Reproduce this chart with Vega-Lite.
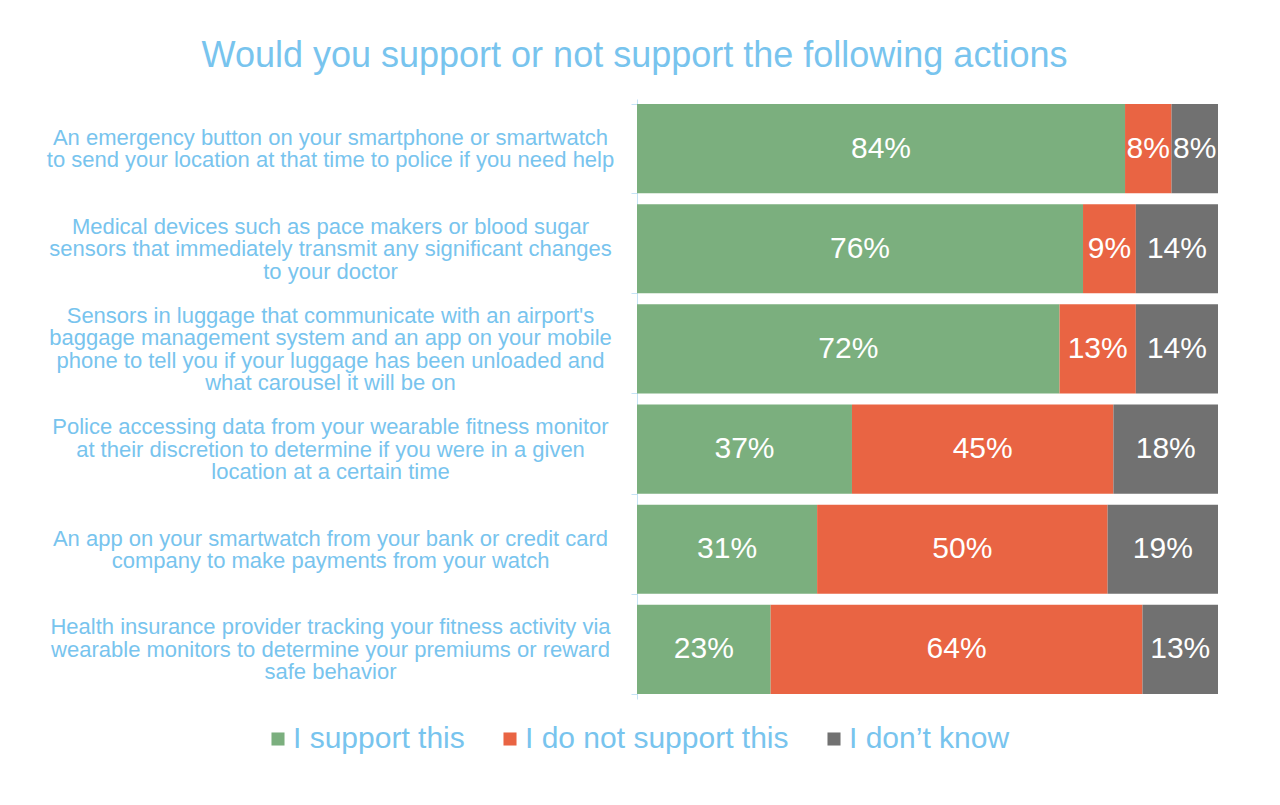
{
  "$schema": "https://vega.github.io/schema/vega-lite/v6.json",
  "width": 581,
  "height": 600,
  "autosize": {"type": "none"},
  "padding": {"left": 637, "top": 99, "right": 62, "bottom": 106},
  "background": "white",
  "config": {"view": {"stroke": null}, "font": "Liberation Sans"},
  "title": {
    "text": "Would you support or not support the following actions",
    "fontSize": 36,
    "fontWeight": "normal",
    "color": "#78C4EE",
    "anchor": "middle",
    "dx": -293,
    "offset": 13
  },
  "data": {
    "values": [
      {"q": "An emergency button on your smartphone or smartwatch|to send your location at that time to police if you need help", "r": "I support this", "o": 1, "v": 0.84},
      {"q": "An emergency button on your smartphone or smartwatch|to send your location at that time to police if you need help", "r": "I do not support this", "o": 2, "v": 0.08},
      {"q": "An emergency button on your smartphone or smartwatch|to send your location at that time to police if you need help", "r": "I don’t know", "o": 3, "v": 0.08},
      {"q": "Medical devices such as pace makers or blood sugar|sensors that immediately transmit any significant changes|to your doctor", "r": "I support this", "o": 1, "v": 0.76},
      {"q": "Medical devices such as pace makers or blood sugar|sensors that immediately transmit any significant changes|to your doctor", "r": "I do not support this", "o": 2, "v": 0.09},
      {"q": "Medical devices such as pace makers or blood sugar|sensors that immediately transmit any significant changes|to your doctor", "r": "I don’t know", "o": 3, "v": 0.14},
      {"q": "Sensors in luggage that communicate with an airport's|baggage management system and an app on your mobile|phone to tell you if your luggage has been unloaded and|what carousel it will be on", "r": "I support this", "o": 1, "v": 0.72},
      {"q": "Sensors in luggage that communicate with an airport's|baggage management system and an app on your mobile|phone to tell you if your luggage has been unloaded and|what carousel it will be on", "r": "I do not support this", "o": 2, "v": 0.13},
      {"q": "Sensors in luggage that communicate with an airport's|baggage management system and an app on your mobile|phone to tell you if your luggage has been unloaded and|what carousel it will be on", "r": "I don’t know", "o": 3, "v": 0.14},
      {"q": "Police accessing data from your wearable fitness monitor|at their discretion to determine if you were in a given|location at a certain time", "r": "I support this", "o": 1, "v": 0.37},
      {"q": "Police accessing data from your wearable fitness monitor|at their discretion to determine if you were in a given|location at a certain time", "r": "I do not support this", "o": 2, "v": 0.45},
      {"q": "Police accessing data from your wearable fitness monitor|at their discretion to determine if you were in a given|location at a certain time", "r": "I don’t know", "o": 3, "v": 0.18},
      {"q": "An app on your smartwatch from your bank or credit card|company to make payments from your watch", "r": "I support this", "o": 1, "v": 0.31},
      {"q": "An app on your smartwatch from your bank or credit card|company to make payments from your watch", "r": "I do not support this", "o": 2, "v": 0.50},
      {"q": "An app on your smartwatch from your bank or credit card|company to make payments from your watch", "r": "I don’t know", "o": 3, "v": 0.19},
      {"q": "Health insurance provider tracking your fitness activity via|wearable monitors to determine your premiums or reward|safe behavior", "r": "I support this", "o": 1, "v": 0.23},
      {"q": "Health insurance provider tracking your fitness activity via|wearable monitors to determine your premiums or reward|safe behavior", "r": "I do not support this", "o": 2, "v": 0.64},
      {"q": "Health insurance provider tracking your fitness activity via|wearable monitors to determine your premiums or reward|safe behavior", "r": "I don’t know", "o": 3, "v": 0.13}
    ]
  },
  "transform": [
    {"stack": "v", "groupby": ["q"], "sort": [{"field": "o"}], "offset": "normalize", "as": ["v0", "v1"]},
    {"calculate": "(datum.v0 + datum.v1) / 2", "as": "mid"}
  ],
  "encoding": {
    "y": {
      "field": "q",
      "type": "nominal",
      "sort": null,
      "title": null,
      "scale": {"paddingInner": 0.11, "paddingOuter": 0.05},
      "axis": {
        "labelExpr": "split(datum.label, '|')",
        "labelAlign": "center",
        "labelBaseline": "middle",
        "labelPadding": 301,
        "labelLimit": 700,
        "labelFontSize": 22,
        "labelLineHeight": 22.5,
        "labelColor": "#78C4EE",
        "labelOffset": {"expr": "-(length(split(datum.label, '|')) - 1) * 11.25"},
        "ticks": true,
        "tickSize": 6,
        "tickColor": "#C5E3F6",
        "tickBand": "extent",
        "domainColor": "#C5E3F6",
        "domainWidth": 1
      }
    }
  },
  "layer": [
    {
      "mark": {"type": "bar"},
      "encoding": {
        "x": {"field": "v0", "type": "quantitative", "scale": {"domain": [0, 1]}, "axis": null},
        "x2": {"field": "v1"},
        "color": {
          "field": "r",
          "type": "nominal",
          "sort": null,
          "scale": {
            "domain": ["I support this", "I do not support this", "I don’t know"],
            "range": ["#7BAF7E", "#E96443", "#717171"]
          },
          "legend": {
            "title": null,
            "orient": "none",
            "direction": "horizontal",
            "legendX": -374,
            "legendY": 625,
            "symbolType": "square",
            "symbolSize": 170,
            "symbolStrokeWidth": 0,
            "labelFontSize": 30,
            "labelColor": "#78C4EE",
            "labelOffset": 0,
            "columnPadding": 30,
            "labelLimit": 400
          }
        }
      }
    },
    {
      "mark": {"type": "text", "color": "white", "fontSize": 30, "align": "center", "baseline": "middle"},
      "encoding": {
        "x": {"field": "mid", "type": "quantitative", "scale": {"domain": [0, 1]}},
        "text": {"field": "v", "type": "quantitative", "format": ".0%"}
      }
    }
  ]
}
